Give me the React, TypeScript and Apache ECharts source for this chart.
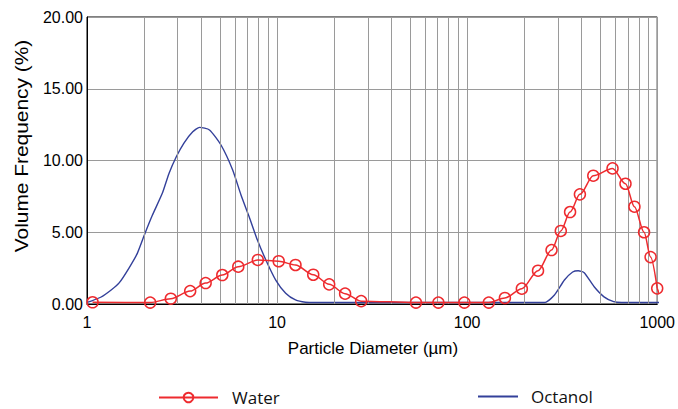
import React, { useEffect, useRef } from 'react';
import * as echarts from 'echarts';

// Water (red, circle markers)
const waterDiameter = [1.07, 2.15, 2.76, 3.49, 4.21, 5.15, 6.25, 7.92, 10.2, 12.5, 15.5, 18.8, 22.8, 27.7, 53.8, 70.6, 96.7, 130, 158, 194, 236, 278, 311, 348, 392, 461, 582, 681, 759, 853, 923, 1000];
const waterVolume = [0.12, 0.1, 0.37, 0.9, 1.46, 2.02, 2.6, 3.07, 2.98, 2.72, 2.04, 1.37, 0.72, 0.2, 0.1, 0.1, 0.1, 0.1, 0.42, 1.07, 2.32, 3.76, 5.09, 6.41, 7.64, 8.94, 9.45, 8.38, 6.78, 5.0, 3.27, 1.09];
const waterTailDiameter = [1000, 1070];
const waterTailVolume = [1.09, 0.08];

// Octanol (blue line)
const octanolDiameter = [1.0, 1.03, 1.18, 1.34, 1.48, 1.66, 1.84, 2.02, 2.21, 2.49, 2.7, 2.95, 3.23, 3.6, 3.91, 4.41, 5.07, 5.84, 6.46, 7.13, 7.88, 8.73, 9.84, 11.1, 12.5, 14.1, 16, 255, 288, 325, 359, 384, 413, 466, 525, 590, 650, 1070];
const octanolVolume = [0.1, 0.16, 0.47, 0.98, 1.49, 2.49, 3.53, 4.93, 6.2, 7.71, 9.1, 10.26, 11.2, 12.0, 12.31, 12.13, 11.08, 9.34, 7.6, 6.08, 4.46, 3.07, 1.67, 0.75, 0.28, 0.12, 0.1, 0.1, 0.63, 1.67, 2.23, 2.32, 2.18, 1.2, 0.5, 0.16, 0.1, 0.1];

// Axis ticks
const xTickLabels = ['1', '10', '100', '1000'];
const minorGridDiameters = [2, 3, 4, 5, 6, 7, 8, 9, 20, 30, 40, 50, 60, 70, 80, 90, 200, 300, 400, 500, 600, 700, 800, 900];
const yMin = 0;
const yMax = 20;
const yInterval = 5;

const RED = '#ee2b2f';
const BLUE = '#33409a';
const GRID = '#9a9a9a';
const AXIS_FONT = '"Liberation Sans", Arial, sans-serif';
const LEGEND_FONT = '"Open Sans", "Noto Sans", sans-serif';

export default function App() {
  const ref = useRef<HTMLDivElement>(null);
  useEffect(() => {
    const chart = echarts.init(ref.current!, undefined, { renderer: 'svg' });
    const waterData = waterDiameter.map((d, i) => [d, waterVolume[i]]);
    const waterTail = waterTailDiameter.map((d, i) => [d, waterTailVolume[i]]);
    const octanolData = octanolDiameter.map((d, i) => [d, octanolVolume[i]]);
    chart.setOption({
      animation: false,
      backgroundColor: '#ffffff',
      grid: {
        left: 87,
        right: 18,
        top: 17,
        bottom: 105,
        show: true,
        borderColor: '#000',
        borderWidth: 1,
        backgroundColor: 'transparent',
        containLabel: false,
      },
      xAxis: {
        type: 'log',
        logBase: 10,
        min: 1,
        max: 1000,
        axisLine: { show: true, lineStyle: { color: '#000', width: 1 } },
        axisTick: { show: false },
        splitLine: { show: true, lineStyle: { color: GRID, width: 1 } },
        axisLabel: {
          color: '#000',
          fontFamily: AXIS_FONT,
          fontSize: 16,
          margin: 10,
          formatter: (v: number) => {
            const idx = Math.round(Math.log10(v));
            return xTickLabels[idx] ?? String(v);
          },
        },
      },
      yAxis: {
        type: 'value',
        min: yMin,
        max: yMax,
        interval: yInterval,
        axisLine: { show: true, lineStyle: { color: '#000', width: 1 } },
        axisTick: { show: false },
        splitLine: { show: true, lineStyle: { color: GRID, width: 1 } },
        axisLabel: {
          color: '#000',
          fontFamily: AXIS_FONT,
          fontSize: 16,
          margin: 4,
          formatter: (v: number) => v.toFixed(2),
        },
      },
      legend: [
        {
          data: ['Water'],
          left: 158,
          top: 389,
          padding: 0,
          itemWidth: 59,
          itemHeight: 12,
          textStyle: { fontFamily: LEGEND_FONT, fontSize: 17, color: '#111', padding: [0, 0, 0, 9] },
        },
        {
          data: [{ name: 'Octanol', icon: 'rect' }],
          left: 478,
          top: 388,
          padding: 0,
          itemWidth: 40,
          itemHeight: 2,
          textStyle: { fontFamily: LEGEND_FONT, fontSize: 17, color: '#111', padding: [0, 0, 0, 8] },
        },
      ],
      graphic: [
        {
          type: 'text',
          x: 21,
          y: 146,
          rotation: Math.PI / 2,
          scaleX: 1.1,
          style: {
            text: 'Volume Frequency (%)',
            font: `19px ${AXIS_FONT}`,
            fill: '#000',
            textAlign: 'center',
            textVerticalAlign: 'middle',
          },
        },
        {
          type: 'text',
          x: 373,
          y: 348,
          style: {
            text: 'Particle Diameter (µm)',
            font: `17px ${AXIS_FONT}`,
            fill: '#000',
            textAlign: 'center',
            textVerticalAlign: 'middle',
          },
        },
      ],
      series: [
        {
          name: 'grid-minor',
          type: 'line',
          data: [],
          z: 1,
          silent: true,
          markLine: {
            silent: true,
            symbol: 'none',
            label: { show: false },
            lineStyle: { type: 'solid', color: GRID, width: 1 },
            data: minorGridDiameters.map((d) => ({ xAxis: d })),
          },
        },
        {
          name: 'Octanol',
          type: 'line',
          data: octanolData,
          smooth: 0.2,
          symbol: 'none',
          clip: false,
          z: 3,
          color: BLUE,
          lineStyle: { color: BLUE, width: 1.4 },
        },
        {
          name: 'Water-tail',
          type: 'line',
          data: waterTail,
          symbol: 'none',
          clip: false,
          z: 4,
          lineStyle: { color: RED, width: 1.5 },
        },
        {
          name: 'Water',
          type: 'line',
          data: waterData,
          smooth: 0.3,
          smoothMonotone: 'x',
          symbol: 'circle',
          symbolSize: 11,
          showAllSymbol: true,
          clip: false,
          z: 5,
          color: RED,
          lineStyle: { color: RED, width: 1.5 },
          itemStyle: { color: 'rgba(255,255,255,0)', borderColor: RED, borderWidth: 1.5 },
        },
      ],
    });
    return () => chart.dispose();
  }, []);
  return <div ref={ref} style={{ position: 'absolute', left: 0, top: 0, width: 678, height: 409 }} />;
}
